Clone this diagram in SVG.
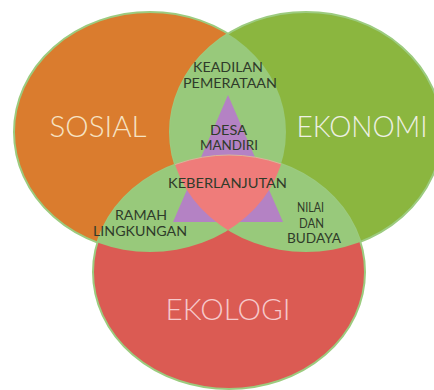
<svg xmlns="http://www.w3.org/2000/svg" width="434" height="390" viewBox="0 0 434 390">
<style>
.big{font-family:"Lato Light","Roboto Light",Roboto,Lato,"Liberation Sans",sans-serif;font-weight:300;font-size:29px;text-anchor:middle}
.sm{font-family:Lato,"Open Sans","Liberation Sans",sans-serif;font-weight:400;font-size:13.5px;fill:#2f3b2a;text-anchor:middle}
.circ{stroke:#9ccb7f;stroke-width:2}
.lens{fill:#98c97b}
</style>
<defs>
<clipPath id="cO"><ellipse cx="150" cy="132" rx="136" ry="120"/></clipPath>
<clipPath id="cG"><ellipse cx="306" cy="132" rx="136" ry="120"/></clipPath>
<clipPath id="cR"><ellipse cx="229" cy="272" rx="136" ry="117"/></clipPath>
</defs>
<rect width="434" height="390" fill="#ffffff"/>
<g id="sosial">
<ellipse class="circ" cx="150" cy="132" rx="136" ry="120" fill="#da7c2e"/>
</g>
<g id="ekonomi">
<ellipse class="circ" cx="306" cy="132" rx="136" ry="120" fill="#8bb63f"/>
</g>
<g id="ekologi">
<ellipse class="circ" cx="229" cy="272" rx="136" ry="117" fill="#db5b53"/>
</g>
<g id="overlaps">
<ellipse class="lens" cx="306" cy="132" rx="136" ry="120" clip-path="url(#cO)"/>
<ellipse class="lens" cx="229" cy="272" rx="136" ry="117" clip-path="url(#cO)"/>
<ellipse class="lens" cx="229" cy="272" rx="136" ry="117" clip-path="url(#cG)"/>
</g>
<g id="triangle">
<polygon points="228,95 173,222 283,222" fill="#b482c4"/>
</g>
<g id="center" clip-path="url(#cO)">
<g clip-path="url(#cG)">
<ellipse cx="229" cy="272" rx="136" ry="117" fill="#ef7c7a" stroke="#d9b49a" stroke-width="1"/>
</g>
</g>
<g id="labels">
<text class="big" x="98" y="137" fill="#f6e3c4" textLength="97" lengthAdjust="spacingAndGlyphs">SOSIAL</text>
<text class="big" x="362" y="137" fill="#eef0e4" textLength="131" lengthAdjust="spacingAndGlyphs">EKONOMI</text>
<text class="big" x="228" y="320" fill="#f6c9cb" textLength="125" lengthAdjust="spacingAndGlyphs">EKOLOGI</text>
<text class="sm" x="228" y="72" textLength="70" lengthAdjust="spacingAndGlyphs">KEADILAN</text>
<text class="sm" x="230" y="88" textLength="94" lengthAdjust="spacingAndGlyphs">PEMERATAAN</text>
<text class="sm" x="228.5" y="135" fill="#3a2c3f" textLength="37" lengthAdjust="spacingAndGlyphs">DESA</text>
<text class="sm" x="229" y="150" fill="#3a2c3f" textLength="58" lengthAdjust="spacingAndGlyphs">MANDIRI</text>
<text class="sm" x="227.5" y="188" textLength="119" lengthAdjust="spacingAndGlyphs">KEBERLANJUTAN</text>
<text class="sm" x="141" y="220" textLength="52" lengthAdjust="spacingAndGlyphs">RAMAH</text>
<text class="sm" x="140" y="236" textLength="94" lengthAdjust="spacingAndGlyphs">LINGKUNGAN</text>
<text class="sm" x="310.5" y="212" textLength="27" lengthAdjust="spacingAndGlyphs">NILAI</text>
<text class="sm" x="311.5" y="228" textLength="25" lengthAdjust="spacingAndGlyphs">DAN</text>
<text class="sm" x="314" y="243" textLength="54" lengthAdjust="spacingAndGlyphs">BUDAYA</text>
</g>
</svg>
